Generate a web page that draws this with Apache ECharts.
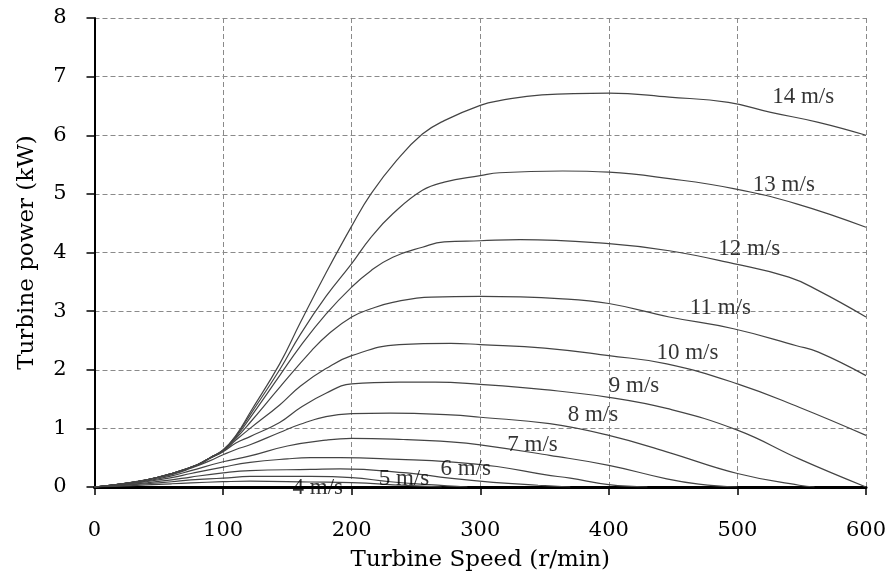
<!DOCTYPE html>
<html>
<head>
<meta charset="utf-8">
<script src="https://cdn.jsdelivr.net/npm/echarts@6/dist/echarts.min.js"></script>
<style>
html,body{margin:0;padding:0;background:#fff;}
#chart{width:893px;height:581px;}
</style>
</head>
<body>
<div id="chart"></div>
<script>
// X axis ticks (r/min) and Y axis ticks (kW)
const xTicks = [0, 100, 200, 300, 400, 500, 600];
const yTicks = [0, 1, 2, 3, 4, 5, 6, 7, 8];

// Power curves [speed r/min, power kW] per wind speed
const speed14 = [[0,0],[20,0.05],[40,0.12],[60,0.23],[80,0.38],[90,0.5],[100,0.63],[110,0.88],[121,1.27],[144,2.1],[160,2.8],[180,3.65],[200,4.45],[215,5.0],[235,5.57],[255,6.02],[272,6.25],[300,6.51],[315,6.59],[348,6.69],[400,6.72],[447,6.65],[493,6.56],[526,6.39],[563,6.22],[600,6.0]];
const speed13 = [[0,0],[20,0.05],[40,0.12],[60,0.23],[80,0.38],[90,0.5],[100,0.63],[110,0.87],[121,1.23],[144,2.0],[160,2.6],[180,3.25],[200,3.81],[215,4.26],[232,4.66],[255,5.06],[272,5.2],[300,5.31],[315,5.36],[364,5.39],[400,5.37],[447,5.26],[497,5.09],[546,4.83],[600,4.43]];
const speed12 = [[0,0],[20,0.05],[40,0.12],[60,0.23],[80,0.38],[90,0.5],[100,0.62],[110,0.85],[121,1.18],[144,1.9],[160,2.4],[180,2.95],[200,3.41],[215,3.69],[232,3.92],[255,4.09],[272,4.18],[300,4.2],[331,4.22],[400,4.15],[447,4.03],[497,3.81],[540,3.58],[563,3.35],[600,2.9]];
const speed11 = [[0,0],[20,0.05],[40,0.12],[60,0.23],[80,0.38],[90,0.5],[100,0.62],[110,0.83],[121,1.1],[144,1.7],[169,2.33],[182,2.61],[200,2.9],[215,3.04],[232,3.15],[262,3.24],[300,3.25],[364,3.21],[400,3.13],[447,2.9],[497,2.7],[546,2.41],[563,2.3],[600,1.9]];
const speed10 = [[0,0],[20,0.05],[40,0.12],[60,0.23],[80,0.38],[90,0.5],[100,0.61],[110,0.8],[121,1.0],[144,1.4],[160,1.72],[180,2.02],[200,2.24],[237,2.43],[277,2.45],[300,2.43],[350,2.37],[400,2.24],[445,2.1],[500,1.76],[548,1.36],[600,0.88]];
const speed9  = [[0,0],[20,0.05],[40,0.12],[60,0.22],[80,0.37],[90,0.49],[100,0.6],[110,0.75],[121,0.86],[144,1.1],[160,1.35],[180,1.6],[200,1.76],[237,1.79],[265,1.79],[300,1.75],[350,1.66],[400,1.53],[445,1.34],[500,0.97],[548,0.48],[600,0]];
const speed8  = [[0,0],[20,0.05],[40,0.12],[60,0.21],[75,0.32],[90,0.45],[100,0.55],[110,0.64],[121,0.72],[144,0.93],[160,1.07],[180,1.2],[200,1.25],[230,1.26],[277,1.23],[300,1.19],[354,1.08],[400,0.88],[445,0.6],[500,0.23],[548,0.03],[560,0]];
const speed7  = [[0,0],[20,0.04],[40,0.1],[60,0.19],[75,0.28],[100,0.43],[121,0.53],[150,0.7],[180,0.8],[200,0.83],[240,0.81],[277,0.77],[300,0.72],[354,0.54],[400,0.37],[445,0.14],[470,0.05],[500,0]];
const speed6  = [[0,0],[20,0.04],[40,0.09],[60,0.16],[75,0.23],[100,0.34],[121,0.42],[150,0.48],[168,0.5],[191,0.5],[237,0.47],[276,0.43],[313,0.35],[350,0.21],[370,0.15],[400,0.04],[430,0]];
const speed5  = [[0,0],[20,0.03],[40,0.07],[60,0.12],[75,0.17],[100,0.24],[121,0.28],[168,0.3],[191,0.31],[243,0.24],[276,0.15],[310,0.08],[345,0.03],[370,0]];
const speed4  = [[0,0],[20,0.025],[40,0.055],[60,0.09],[75,0.12],[100,0.15],[121,0.18],[168,0.18],[200,0.16],[230,0.09],[260,0.04],[290,0]];
const speed3  = [[0,0],[20,0.015],[40,0.035],[60,0.055],[75,0.07],[100,0.09],[121,0.1],[168,0.085],[200,0.075],[240,0.03],[270,0]];

const curves = [speed14, speed13, speed12, speed11, speed10, speed9, speed8, speed7, speed6, speed5, speed4, speed3];

// Curve labels: text and anchor in data units
const labelText = ['14 m/s','13 m/s','12 m/s','11 m/s','10 m/s','9 m/s','8 m/s','7 m/s','6 m/s','5 m/s','4 m/s'];
const labelX = [527, 512, 485, 463, 437, 400, 368, 321, 269, 221, 154];
const labelY = [6.66, 5.15, 4.06, 3.05, 2.29, 1.72, 1.23, 0.72, 0.30, 0.14, -0.02];

const chart = echarts.init(document.getElementById('chart'));

const axisFont = 'DejaVu Serif';
const series = curves.map(c => ({
  type: 'line',
  data: c,
  smooth: 0.45,
  symbol: 'none',
  lineStyle: { color: '#444', width: 1.2 },
  z: 3
}));
series.push({
  type: 'scatter',
  symbolSize: 0,
  clip: false,
  z: 5,
  data: labelText.map((t, i) => [labelX[i], labelY[i], t]),
  label: {
    show: true,
    position: 'inside',
    align: 'left',
    verticalAlign: 'middle',
    formatter: p => p.data[2],
    fontFamily: 'Liberation Serif',
    fontSize: 23,
    color: '#000'
  }
});

chart.setOption({
  backgroundColor: '#fff',
  animation: false,
  grid: { left: 94.5, right: 27, top: 18, bottom: 94 },
  xAxis: {
    type: 'value',
    min: xTicks[0], max: xTicks[xTicks.length - 1], interval: 100,
    name: 'Turbine Speed (r/min)',
    nameLocation: 'middle',
    nameGap: 62,
    nameTextStyle: { fontFamily: axisFont, fontSize: 23, color: '#000' },
    axisLine: { lineStyle: { color: '#000', width: 3 } },
    axisTick: { show: true, length: 8, lineStyle: { color: '#000', width: 1.5 } },
    axisLabel: { margin: 33, fontFamily: axisFont, fontSize: 21, color: '#000' },
    splitLine: { show: true, lineStyle: { color: '#8a8a8a', width: 1, type: [5, 3] } }
  },
  yAxis: {
    type: 'value',
    min: yTicks[0], max: yTicks[yTicks.length - 1], interval: 1,
    name: 'Turbine power (kW)',
    nameLocation: 'middle',
    nameGap: 56,
    nameRotate: 90,
    nameTextStyle: { fontFamily: axisFont, fontSize: 23, color: '#000' },
    axisLine: { show: true, lineStyle: { color: '#000', width: 2 } },
    axisTick: { show: true, length: 8, lineStyle: { color: '#000', width: 1.5 } },
    axisLabel: { margin: 28, fontFamily: axisFont, fontSize: 21, color: '#000' },
    splitLine: { show: true, lineStyle: { color: '#8a8a8a', width: 1, type: [5, 3] } }
  },
  series: series
});
</script>
</body>
</html>
